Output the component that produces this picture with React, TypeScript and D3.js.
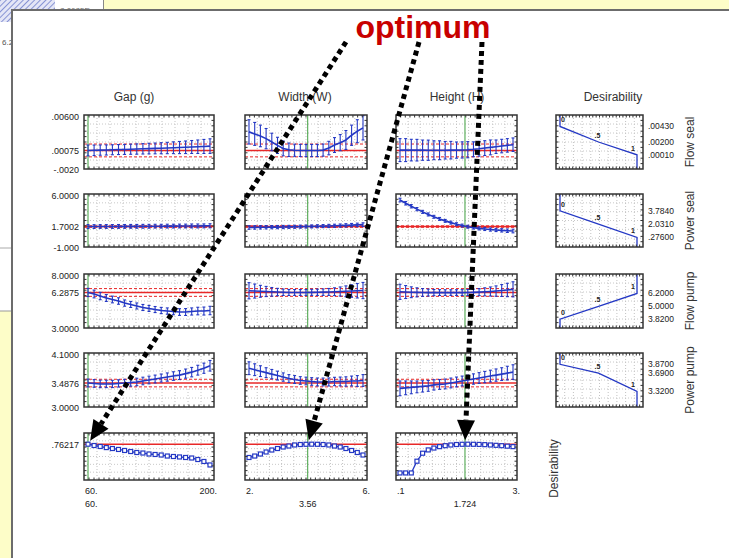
import React, { useEffect, useRef } from "react";
import * as d3 from "d3";

// Profiler factors (columns)
const factorNames = ["Gap (g)", "Width (W)", "Height (H)"];
const factorMinLabels = ["60.", "2.", ".1"];
const factorMaxLabels = ["200.", "6.", "3."];
const factorCurrentLabels = ["60.", "3.56", "1.724"];
// position of the current setting on the 21-step profile grid
const factorCurrentStep = [0, 10.3, 11.5];

// Responses (rows)
const responseNames = ["Flow seal", "Power seal", "Flow pump", "Power pump"];
const responseDomains = [
  [-0.002, 0.006],
  [-1, 6],
  [3, 8],
  [3, 4.1],
];
const responseAxisLabels = [
  [".00600", ".00075", "-.0020"],
  ["6.0000", "1.7002", "-1.000"],
  ["8.0000", "6.2875", "3.0000"],
  ["4.1000", "3.4876", "3.0000"],
];
const responsePredicted = [0.00075, 1.7002, 6.2875, 3.4876];
const responseLower = [-0.0002, 1.6, 5.93, 3.41];
const responseUpper = [0.0017, 1.8, 6.65, 3.565];

// Flow seal profiles
const gapFlowSeal = [0.00075, 0.00077, 0.0008, 0.00082, 0.00085, 0.00088, 0.0009, 0.00093, 0.00096, 0.00099, 0.00102, 0.00105, 0.00108, 0.00111, 0.00115, 0.00118, 0.00122, 0.00126, 0.0013, 0.00134, 0.00139];
const gapFlowSealErr = [0.0008, 0.00078, 0.00076, 0.00075, 0.00074, 0.00074, 0.00074, 0.00075, 0.00076, 0.00077, 0.00078, 0.0008, 0.00082, 0.00084, 0.00087, 0.0009, 0.00093, 0.00096, 0.001, 0.00104, 0.00108];
const widthFlowSeal = [0.0035, 0.0032, 0.0029, 0.0025, 0.002, 0.0015, 0.00105, 0.00085, 0.00078, 0.00075, 0.00074, 0.00074, 0.00075, 0.0008, 0.0011, 0.00155, 0.0019, 0.0023, 0.003, 0.0036, 0.0041];
const widthFlowSealErr = [0.0018, 0.0017, 0.0016, 0.0015, 0.0013, 0.0012, 0.0011, 0.001, 0.0009, 0.0009, 0.0009, 0.0009, 0.0009, 0.0009, 0.001, 0.0011, 0.0012, 0.0014, 0.0015, 0.0017, 0.0018];
const heightFlowSeal = [0.0008, 0.0008, 0.0008, 0.00079, 0.00079, 0.00078, 0.00078, 0.00078, 0.00078, 0.00079, 0.0008, 0.00082, 0.00086, 0.00092, 0.001, 0.0011, 0.0012, 0.0013, 0.0014, 0.0015, 0.0016];
const heightFlowSealErr = [0.0017, 0.0017, 0.0016, 0.0016, 0.0015, 0.0015, 0.0014, 0.0014, 0.0013, 0.0013, 0.0012, 0.0012, 0.0012, 0.0011, 0.0011, 0.0011, 0.0011, 0.001, 0.001, 0.001, 0.001];

// Power seal profiles
const gapPowerSeal = [1.7, 1.7, 1.71, 1.71, 1.71, 1.72, 1.72, 1.73, 1.73, 1.74, 1.74, 1.75, 1.75, 1.76, 1.76, 1.77, 1.77, 1.78, 1.78, 1.79, 1.8];
const gapPowerSealErr = [0.26, 0.25, 0.25, 0.25, 0.25, 0.25, 0.25, 0.25, 0.25, 0.25, 0.25, 0.25, 0.25, 0.25, 0.25, 0.25, 0.25, 0.26, 0.26, 0.26, 0.27];
const widthPowerSeal = [1.58, 1.59, 1.6, 1.61, 1.62, 1.63, 1.64, 1.66, 1.67, 1.69, 1.7, 1.72, 1.74, 1.76, 1.78, 1.8, 1.83, 1.86, 1.89, 1.92, 1.95];
const widthPowerSealErr = [0.24, 0.23, 0.22, 0.22, 0.21, 0.21, 0.21, 0.2, 0.2, 0.2, 0.2, 0.2, 0.2, 0.2, 0.21, 0.21, 0.21, 0.22, 0.22, 0.23, 0.24];
const heightPowerSeal = [5.2, 4.78, 4.38, 4.0, 3.64, 3.3, 2.99, 2.71, 2.45, 2.22, 2.01, 1.83, 1.68, 1.56, 1.46, 1.38, 1.31, 1.25, 1.2, 1.15, 1.11];
const heightPowerSealErr = [0.24, 0.23, 0.22, 0.21, 0.2, 0.2, 0.19, 0.19, 0.19, 0.19, 0.19, 0.19, 0.19, 0.19, 0.2, 0.2, 0.21, 0.21, 0.22, 0.23, 0.24];

// Flow pump profiles
const gapFlowPump = [6.29, 6.15, 5.96, 5.78, 5.64, 5.5, 5.31, 5.18, 5.04, 4.9, 4.81, 4.71, 4.62, 4.57, 4.53, 4.48, 4.48, 4.53, 4.57, 4.57, 4.62];
const gapFlowPumpErr = [0.38, 0.36, 0.34, 0.32, 0.31, 0.3, 0.29, 0.28, 0.28, 0.28, 0.28, 0.28, 0.29, 0.29, 0.3, 0.31, 0.32, 0.33, 0.35, 0.37, 0.39];
const widthFlowPump = [6.45, 6.42, 6.4, 6.38, 6.35, 6.33, 6.31, 6.29, 6.29, 6.29, 6.29, 6.3, 6.31, 6.32, 6.34, 6.36, 6.38, 6.4, 6.42, 6.45, 6.47];
const widthFlowPumpErr = [0.75, 0.65, 0.55, 0.47, 0.4, 0.34, 0.3, 0.28, 0.27, 0.27, 0.27, 0.28, 0.29, 0.3, 0.32, 0.36, 0.42, 0.5, 0.58, 0.67, 0.75];
const heightFlowPump = [6.35, 6.33, 6.31, 6.3, 6.29, 6.28, 6.28, 6.28, 6.28, 6.28, 6.28, 6.28, 6.29, 6.3, 6.32, 6.35, 6.38, 6.42, 6.47, 6.52, 6.58];
const heightFlowPumpErr = [0.7, 0.6, 0.5, 0.42, 0.36, 0.32, 0.29, 0.27, 0.26, 0.26, 0.26, 0.27, 0.28, 0.3, 0.33, 0.37, 0.42, 0.48, 0.55, 0.62, 0.7];

// Power pump profiles
const gapPowerPump = [3.489, 3.48, 3.47, 3.47, 3.47, 3.48, 3.49, 3.5, 3.51, 3.53, 3.55, 3.57, 3.59, 3.61, 3.63, 3.65, 3.68, 3.71, 3.75, 3.79, 3.84];
const gapPowerPumpErr = [0.08, 0.078, 0.076, 0.075, 0.074, 0.074, 0.074, 0.075, 0.076, 0.077, 0.078, 0.08, 0.082, 0.084, 0.087, 0.09, 0.093, 0.096, 0.1, 0.104, 0.108];
const widthPowerPump = [3.79, 3.76, 3.73, 3.7, 3.67, 3.64, 3.61, 3.58, 3.56, 3.54, 3.53, 3.52, 3.51, 3.51, 3.51, 3.52, 3.52, 3.52, 3.53, 3.53, 3.54];
const widthPowerPumpErr = [0.13, 0.12, 0.11, 0.1, 0.095, 0.09, 0.085, 0.08, 0.08, 0.078, 0.078, 0.078, 0.08, 0.08, 0.082, 0.085, 0.09, 0.095, 0.1, 0.11, 0.12];
const heightPowerPump = [3.38, 3.39, 3.4, 3.41, 3.42, 3.43, 3.45, 3.46, 3.47, 3.49, 3.51, 3.53, 3.55, 3.57, 3.59, 3.61, 3.63, 3.65, 3.67, 3.69, 3.71];
const heightPowerPumpErr = [0.15, 0.14, 0.13, 0.12, 0.115, 0.11, 0.105, 0.1, 0.1, 0.1, 0.1, 0.1, 0.1, 0.105, 0.11, 0.115, 0.12, 0.125, 0.13, 0.14, 0.15];

// Overall desirability profiles
const desirabilityValue = 0.76217;
const desirabilityLabel = ".76217";
const gapDesire = [0.762, 0.734, 0.713, 0.69, 0.67, 0.65, 0.628, 0.606, 0.585, 0.574, 0.553, 0.543, 0.532, 0.51, 0.5, 0.49, 0.479, 0.468, 0.436, 0.394, 0.32];
const widthDesire = [0.479, 0.51, 0.553, 0.596, 0.638, 0.67, 0.702, 0.723, 0.745, 0.755, 0.76, 0.762, 0.76, 0.755, 0.745, 0.723, 0.702, 0.67, 0.628, 0.585, 0.532];
const heightDesire = [0.15, 0.15, 0.15, 0.4, 0.57, 0.64, 0.68, 0.71, 0.73, 0.745, 0.755, 0.76, 0.762, 0.76, 0.757, 0.752, 0.745, 0.738, 0.73, 0.72, 0.71];

// Desirability functions per response (response value -> desirability)
const desireFnValues = [
  [0.0043, 0.002, 0.0001],
  [3.784, 2.031, 0.276],
  [6.2, 5.0, 3.82],
  [3.87, 3.69, 3.32],
];
const desireFnLabels = [
  [".00430", ".00200", ".00010"],
  ["3.7840", "2.0310", ".27600"],
  ["6.2000", "5.0000", "3.8200"],
  ["3.8700", "3.6900", "3.3200"],
];
const desireFnLevels = [
  [0, 0.5, 1],
  [0, 0.5, 1],
  [1, 0.5, 0],
  [0, 0.5, 1],
];
const desireLevelText = ["0", ".5", "1"];

// layout
const W = 729;
const H = 558;
const colX = [
  [84, 214],
  [245, 367],
  [396, 517],
];
const desX = [556, 643];
const rowY = [
  [115, 169],
  [194, 247],
  [274, 328],
  [353, 407],
  [433, 480],
];
const titleX = [134, 305, 457, 613];
const arrowStarts = [
  [346, 42],
  [419, 42],
  [482, 42],
];
const FONT = "'Liberation Sans', Arial, Helvetica, sans-serif";
const BLUE = "#2438c4";
const RED = "#e82828";
const GREEN = "#3f9f3f";

export default function App() {
  const svgRef = useRef<SVGSVGElement>(null);

  useEffect(() => {
    const svg = d3.select(svgRef.current);
    svg.selectAll("*").remove();
    svg.attr("font-family", FONT);

    const profiles = [
      [[gapFlowSeal, gapFlowSealErr], [widthFlowSeal, widthFlowSealErr], [heightFlowSeal, heightFlowSealErr]],
      [[gapPowerSeal, gapPowerSealErr], [widthPowerSeal, widthPowerSealErr], [heightPowerSeal, heightPowerSealErr]],
      [[gapFlowPump, gapFlowPumpErr], [widthFlowPump, widthFlowPumpErr], [heightFlowPump, heightFlowPumpErr]],
      [[gapPowerPump, gapPowerPumpErr], [widthPowerPump, widthPowerPumpErr], [heightPowerPump, heightPowerPumpErr]],
    ];
    const desireProfiles = [gapDesire, widthDesire, heightDesire];

    // ---- background windows ----
    const defs = svg.append("defs");
    const pat = defs
      .append("pattern")
      .attr("id", "hatch")
      .attr("width", 4)
      .attr("height", 4)
      .attr("patternUnits", "userSpaceOnUse")
      .attr("patternTransform", "rotate(45)");
    pat.append("rect").attr("width", 4).attr("height", 4).attr("fill", "#e4e6f6");
    pat.append("line").attr("x1", 0).attr("x2", 0).attr("y1", 0).attr("y2", 4).attr("stroke", "#6f7fcc").attr("stroke-width", 1.6);

    svg.append("rect").attr("width", W).attr("height", H).attr("fill", "#fdfdc8");
    svg.append("rect").attr("x", 0).attr("y", 22).attr("width", 12).attr("height", 289).attr("fill", "#fff");
    svg.append("line").attr("x1", 0).attr("x2", 12).attr("y1", 311).attr("y2", 311).attr("stroke", "#999");
    svg.append("line").attr("x1", 0).attr("x2", 12).attr("y1", 248).attr("y2", 248).attr("stroke", "#aaa");
    svg.append("text").attr("x", 2).attr("y", 45).attr("font-size", 8).attr("fill", "#555").text("6.2");
    svg.append("rect").attr("x", 0).attr("y", 0).attr("width", 55).attr("height", 22).attr("fill", "url(#hatch)");
    svg.append("rect").attr("x", 55).attr("y", 0).attr("width", 48).attr("height", 12).attr("fill", "#fff");
    svg.append("line").attr("x1", 103.5).attr("x2", 103.5).attr("y1", 0).attr("y2", 12).attr("stroke", "#888");
    svg.append("text").attr("x", 60).attr("y", 13).attr("font-size", 8).attr("fill", "#666").text("8.0685E");

    // main window
    svg
      .append("rect")
      .attr("x", 12)
      .attr("y", 10)
      .attr("width", W)
      .attr("height", H)
      .attr("fill", "#fff")
      .attr("stroke", "#6c6c6c")
      .attr("stroke-width", 2);

    // column titles
    svg
      .append("g")
      .selectAll("text")
      .data([...factorNames, "Desirability"])
      .join("text")
      .attr("x", (d, i) => titleX[i])
      .attr("y", 101)
      .attr("text-anchor", "middle")
      .attr("font-size", 12)
      .attr("fill", "#333")
      .text((d) => d);

    const panelGrid = (g, x0, y0, x1, y1) => {
      g.append("rect").attr("x", x0).attr("y", y0).attr("width", x1 - x0).attr("height", y1 - y0).attr("fill", "#fff");
      const gx = d3.scaleLinear().domain([0, 10]).range([x0, x1]);
      const gy = d3.scaleLinear().domain([0, 6]).range([y0, y1]);
      g.append("g")
        .selectAll("line")
        .data(d3.range(1, 10))
        .join("line")
        .attr("x1", gx)
        .attr("x2", gx)
        .attr("y1", y0)
        .attr("y2", y1)
        .attr("stroke", "#c2c2c2")
        .attr("stroke-dasharray", "1,2");
      g.append("g")
        .selectAll("line")
        .data(d3.range(1, 6))
        .join("line")
        .attr("y1", gy)
        .attr("y2", gy)
        .attr("x1", x0)
        .attr("x2", x1)
        .attr("stroke", "#c8c8c8")
        .attr("stroke-dasharray", "1,2");
    };

    const panelFrame = (g, x0, y0, x1, y1) => {
      const tx = d3.scaleLinear().domain([0, 26]).range([x0, x1]);
      const ty = d3.scaleLinear().domain([0, 10]).range([y0, y1]);
      const ticks = g.append("g").attr("stroke", "#333").attr("stroke-width", 1);
      d3.range(1, 26).forEach((i) => {
        ticks.append("line").attr("x1", tx(i)).attr("x2", tx(i)).attr("y1", y0).attr("y2", y0 + 2.5);
        ticks.append("line").attr("x1", tx(i)).attr("x2", tx(i)).attr("y1", y1).attr("y2", y1 - 2.5);
      });
      d3.range(1, 10).forEach((i) => {
        ticks.append("line").attr("y1", ty(i)).attr("y2", ty(i)).attr("x1", x0).attr("x2", x0 + 2.5);
        ticks.append("line").attr("y1", ty(i)).attr("y2", ty(i)).attr("x1", x1).attr("x2", x1 - 2.5);
      });
      g.append("rect")
        .attr("x", x0)
        .attr("y", y0)
        .attr("width", x1 - x0)
        .attr("height", y1 - y0)
        .attr("fill", "none")
        .attr("stroke", "#333")
        .attr("stroke-width", 1.5);
    };

    const xScales = colX.map(([x0, x1]) => d3.scaleLinear().domain([0, 20]).range([x0 + 4, x1 - 4]));
    const [dy0, dy1] = rowY[4];
    const yDes = d3.scaleLinear().domain([0, 1]).range([dy1, dy0]);

    // ---- response rows ----
    responseNames.forEach((name, r) => {
      const [y0, y1] = rowY[r];
      const y = d3.scaleLinear().domain(responseDomains[r]).range([y1, y0]);

      colX.forEach(([x0, x1], c) => {
        const x = xScales[c];
        const [means, errs] = profiles[r][c];
        const g = svg.append("g");
        const clipId = `clip-${r}-${c}`;
        defs
          .append("clipPath")
          .attr("id", clipId)
          .append("rect")
          .attr("x", x0)
          .attr("y", y0)
          .attr("width", x1 - x0)
          .attr("height", y1 - y0);
        panelGrid(g, x0, y0, x1, y1);
        const inner = g.append("g").attr("clip-path", `url(#${clipId})`);
        [responseLower[r], responseUpper[r]].forEach((v) => {
          inner
            .append("line")
            .attr("x1", x0)
            .attr("x2", x1)
            .attr("y1", y(v))
            .attr("y2", y(v))
            .attr("stroke", RED)
            .attr("stroke-width", 1)
            .attr("stroke-dasharray", "3,2");
        });
        inner
          .append("line")
          .attr("x1", x0)
          .attr("x2", x1)
          .attr("y1", y(responsePredicted[r]))
          .attr("y2", y(responsePredicted[r]))
          .attr("stroke", RED)
          .attr("stroke-width", 1.5);
        inner
          .append("line")
          .attr("x1", x(factorCurrentStep[c]))
          .attr("x2", x(factorCurrentStep[c]))
          .attr("y1", y0)
          .attr("y2", y1)
          .attr("stroke", GREEN)
          .attr("stroke-width", 1);
        const bars = inner.append("g").attr("stroke", BLUE).attr("stroke-width", 1.1);
        means.forEach((m, i) => {
          const lo = y(m - errs[i]);
          const hi = y(m + errs[i]);
          bars.append("line").attr("x1", x(i)).attr("x2", x(i)).attr("y1", lo).attr("y2", hi);
          bars.append("line").attr("x1", x(i) - 1.5).attr("x2", x(i) + 1.5).attr("y1", lo).attr("y2", lo);
          bars.append("line").attr("x1", x(i) - 1.5).attr("x2", x(i) + 1.5).attr("y1", hi).attr("y2", hi);
        });
        inner
          .append("path")
          .datum(means)
          .attr("fill", "none")
          .attr("stroke", BLUE)
          .attr("stroke-width", 1.6)
          .attr("d", d3.line<number>().x((d, i) => x(i)).y((d) => y(d)));
        panelFrame(g, x0, y0, x1, y1);
      });

      // y axis labels of the first column
      const labels = responseAxisLabels[r];
      const ax = svg.append("g").attr("font-size", 9).attr("fill", "#222").attr("text-anchor", "end");
      ax.append("text").attr("x", 79).attr("y", y0 + 5).text(labels[0]);
      ax.append("text").attr("x", 79).attr("y", y(responsePredicted[r]) + 3.5).text(labels[1]);
      ax.append("text").attr("x", 79).attr("y", y1 + 4).text(labels[2]);

      // desirability function panel
      const [dx0, dx1] = desX;
      const dxs = d3.scaleLinear().domain([0, 1]).range([dx0 + 4, dx1 - 6]);
      const dg = svg.append("g");
      panelGrid(dg, dx0, y0, dx1, y1);
      const vals = desireFnValues[r];
      const lev = desireFnLevels[r];
      const dom = responseDomains[r];
      const pts = [
        [lev[0], dom[1]],
        [lev[0], vals[0]],
        [lev[1], vals[1]],
        [lev[2], vals[2]],
        [lev[2], dom[0]],
      ];
      dg.append("path")
        .datum(pts)
        .attr("fill", "none")
        .attr("stroke", BLUE)
        .attr("stroke-width", 1.3)
        .attr("d", d3.line<number[]>().x((d) => dxs(d[0])).y((d) => y(d[1])));
      dg.append("g")
        .attr("font-size", 7)
        .attr("font-weight", "bold")
        .attr("fill", "#222")
        .selectAll("text")
        .data(vals)
        .join("text")
        .attr("x", (d, i) => dxs(lev[i]) + (lev[i] === 0 ? 1 : lev[i] === 1 ? -2 : -1))
        .attr("y", (d, i) => y(d) - 4)
        .attr("text-anchor", (d, i) => (lev[i] === 0 ? "start" : lev[i] === 1 ? "end" : "middle"))
        .text((d, i) => desireLevelText[[0, 0.5, 1].indexOf(lev[i])]);
      panelFrame(dg, dx0, y0, dx1, y1);
      dg.append("g")
        .attr("font-size", 8.5)
        .attr("fill", "#222")
        .selectAll("text")
        .data(vals)
        .join("text")
        .attr("x", 648)
        .attr("y", (d) => y(d) + 3)
        .text((d, i) => desireFnLabels[r][i]);

      svg
        .append("text")
        .attr("transform", `translate(694,${(y0 + y1) / 2}) rotate(-90)`)
        .attr("text-anchor", "middle")
        .attr("font-size", 12)
        .attr("fill", "#333")
        .text(name);
    });

    // ---- desirability row ----
    colX.forEach(([x0, x1], c) => {
      const x = xScales[c];
      const g = svg.append("g");
      panelGrid(g, x0, dy0, x1, dy1);
      g.append("line")
        .attr("x1", x0)
        .attr("x2", x1)
        .attr("y1", yDes(desirabilityValue))
        .attr("y2", yDes(desirabilityValue))
        .attr("stroke", RED)
        .attr("stroke-width", 1.5);
      g.append("line")
        .attr("x1", x(factorCurrentStep[c]))
        .attr("x2", x(factorCurrentStep[c]))
        .attr("y1", dy0)
        .attr("y2", dy1)
        .attr("stroke", GREEN)
        .attr("stroke-width", 1);
      const vals = desireProfiles[c];
      g.append("path")
        .datum(vals)
        .attr("fill", "none")
        .attr("stroke", BLUE)
        .attr("stroke-width", 1.3)
        .attr("d", d3.line<number>().x((d, i) => x(i)).y((d) => yDes(d)));
      g.append("g")
        .selectAll("rect")
        .data(vals)
        .join("rect")
        .attr("x", (d, i) => x(i) - 2)
        .attr("y", (d) => yDes(d) - 2)
        .attr("width", 4)
        .attr("height", 4)
        .attr("fill", "#fff")
        .attr("stroke", BLUE)
        .attr("stroke-width", 1.2);
      panelFrame(g, x0, dy0, x1, dy1);

      const lab = svg.append("g").attr("font-size", 9).attr("fill", "#222");
      lab.append("text").attr("x", x0 + 1).attr("y", 494).text(factorMinLabels[c]);
      lab.append("text").attr("x", x1 + 3).attr("y", 494).attr("text-anchor", "end").text(factorMaxLabels[c]);
      lab.append("text")
        .attr("x", factorCurrentStep[c] === 0 ? x0 + 1 : x(factorCurrentStep[c]))
        .attr("y", 507)
        .attr("text-anchor", factorCurrentStep[c] === 0 ? "start" : "middle")
        .text(factorCurrentLabels[c]);
    });
    svg.append("text").attr("x", 79).attr("y", yDes(desirabilityValue) + 3.5).attr("font-size", 9).attr("fill", "#222").attr("text-anchor", "end").text(desirabilityLabel);
    svg
      .append("text")
      .attr("transform", `translate(558,${(dy0 + dy1) / 2 + 12}) rotate(-90)`)
      .attr("text-anchor", "middle")
      .attr("font-size", 12)
      .attr("fill", "#333")
      .text("Desirability");

    // ---- optimum annotation ----
    const arrows = svg.append("g");
    arrowStarts.forEach(([sx, sy], c) => {
      const tx = xScales[c](factorCurrentStep[c]);
      const ty = yDes(desirabilityValue);
      const len = Math.hypot(tx - sx, ty - sy);
      const ux = (tx - sx) / len;
      const uy = (ty - sy) / len;
      const tipX = tx - ux * 4;
      const tipY = ty - uy * 4;
      const bx = tipX - ux * 20;
      const by = tipY - uy * 20;
      arrows
        .append("line")
        .attr("x1", sx)
        .attr("y1", sy)
        .attr("x2", bx)
        .attr("y2", by)
        .attr("stroke", "#000")
        .attr("stroke-width", 5)
        .attr("stroke-dasharray", "5,4");
      arrows
        .append("polygon")
        .attr("points", [
          [tipX, tipY],
          [bx - uy * 9, by + ux * 9],
          [bx + uy * 9, by - ux * 9],
        ].map((p) => p.join(",")).join(" "))
        .attr("fill", "#000");
    });
    svg
      .append("text")
      .attr("x", 423)
      .attr("y", 38)
      .attr("text-anchor", "middle")
      .attr("font-size", 32)
      .attr("font-weight", "bold")
      .attr("fill", "#c80000")
      .text("optimum");
  }, []);

  return (
    <div style={{ position: "absolute", left: 0, top: 0 }}>
      <svg ref={svgRef} width={W} height={H} style={{ display: "block" }} />
    </div>
  );
}
